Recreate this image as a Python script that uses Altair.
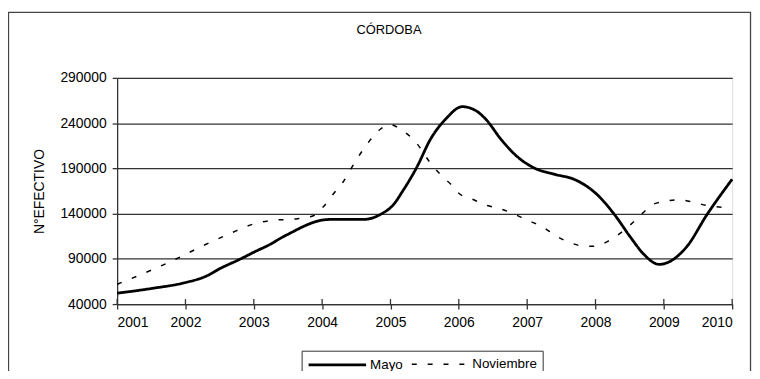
import altair as alt
import pandas as pd

# ---- data ----
years = [2001, 2002, 2003, 2004, 2005, 2006, 2007, 2008, 2009, 2010]
y_ticks = [40000, 90000, 140000, 190000, 240000, 290000]

mayo_x = [2001.0, 2001.5, 2002.0, 2002.29, 2002.53, 2002.77, 2003.06, 2003.2, 2003.47,
          2004.1, 2004.6, 2004.87, 2005.04, 2005.18, 2005.38, 2005.59, 2005.81, 2006.05,
          2006.25, 2006.39, 2006.63, 2006.87, 2007.12, 2007.41, 2007.70, 2008.03, 2008.28,
          2008.52, 2008.71, 2008.93, 2009.07, 2009.34, 2009.63, 2010.0]
mayo_v = [52000, 57200, 63800, 70400, 80200, 88600, 99500, 104500, 116000,
          133500, 133500, 139800, 149600, 165000, 190500, 222800, 244700, 258200,
          253800, 244700, 220900, 202000, 189900, 183300, 177500, 160600, 138700,
          113100, 94800, 83900, 86400, 103900, 138700, 178000]

nov_x = [2001.0, 2001.66, 2001.87, 2002.24, 2002.65, 2003.01, 2003.25, 2003.64, 2003.88,
         2004.02, 2004.19, 2004.31, 2004.41, 2004.6, 2004.72, 2004.86, 2004.99, 2005.16,
         2005.37, 2005.59, 2005.74, 2005.88, 2006.0, 2006.2, 2006.39, 2006.61, 2006.8,
         2006.99, 2007.21, 2007.45, 2007.66, 2007.84, 2007.99, 2008.18, 2008.40, 2008.54,
         2008.69, 2008.83, 2009.0, 2009.22, 2009.43, 2009.63, 2009.85]
nov_v = [61900, 82800, 90100, 103900, 117900, 128800, 132400, 134300, 137900,
         147800, 164200, 175200, 188000, 210700, 222800, 233800, 238500, 232600,
         219000, 195400, 182500, 172700, 162500, 155900, 149600, 145300, 139800,
         133200, 125900, 114200, 107000, 103900, 103900, 109400, 120400, 129600,
         140500, 149600, 153300, 155100, 152600, 148900, 147100]

series = ["Mayo", "Noviembre"]

df = pd.DataFrame({
    "anio": mayo_x + nov_x,
    "valor": mayo_v + nov_v,
    "serie": [series[0]] * len(mayo_x) + [series[1]] * len(nov_x),
})
ticks_df = pd.DataFrame({"anio": years})
frame_df = pd.DataFrame({"a": [0]})

FONT = "Liberation Sans"
W, H = 620, 228

xscale = alt.Scale(domain=[2001, 2010], nice=False, zero=False)
yscale = alt.Scale(domain=[40000, 290000], nice=False, zero=False)

leg = alt.Legend(
    title=None, orient="none", legendX=186, legendY=275, direction="horizontal",
    strokeColor="#333", fillColor="white", padding=5,
    symbolType="M-4,0H4", symbolSize=210, symbolOffset=22,
    symbolStrokeColor="black", labelFont=FONT, labelFontSize=13.5,
    labelColor="black", labelOffset=24, columnPadding=5, cornerRadius=0,
)

lines = alt.Chart(df).mark_line(color="black", interpolate="monotone").encode(
    x=alt.X("anio:Q", scale=xscale,
            axis=alt.Axis(values=years, format="d", title=None, grid=False,
                          tickSize=5, labelPadding=7, labelFont=FONT, labelFontSize=14,
                          labelColor="black", domainColor="#333", tickColor="#333",
                          domainWidth=1.3, tickWidth=1.3)),
    y=alt.Y("valor:Q", scale=yscale,
            axis=alt.Axis(values=y_ticks, format="d", title="N°EFECTIVO",
                          grid=True, gridColor="#333", gridWidth=1.3,
                          tickSize=5, labelPadding=6, labelFont=FONT, labelFontSize=14,
                          labelColor="black", domainColor="#333", tickColor="#333",
                          domainWidth=1.3, tickWidth=1.3, titleFont=FONT,
                          titleFontSize=14, titleFontWeight="normal", titleColor="black",
                          titlePadding=13)),
    strokeDash=alt.StrokeDash("serie:N", scale=alt.Scale(domain=series, range=[[1, 0], [5, 11]]),
                              legend=leg),
    strokeWidth=alt.StrokeWidth("serie:N", scale=alt.Scale(domain=series, range=[2.8, 1.5]),
                                legend=leg),
)

inner_ticks = alt.Chart(ticks_df).mark_rule(color="#333", strokeWidth=1.3).encode(
    x=alt.X("anio:Q", scale=xscale),
    y=alt.value(H - 5), y2=alt.value(H),
)

frame = alt.Chart(frame_df).mark_rect(filled=False, stroke="#444", strokeWidth=1.3).encode(
    x=alt.value(-109.5), x2=alt.value(638.5), y=alt.value(-66), y2=alt.value(320),
)

chart = alt.layer(frame, lines, inner_ticks).properties(
    width=W, height=H,
    title=alt.TitleParams("CÓRDOBA", font=FONT, fontSize=13, fontWeight="normal",
                          color="black", anchor="middle", dx=-36, offset=-25),
    autosize=alt.AutoSizeParams(type="none"),
    padding={"left": 110, "top": 69, "right": 20, "bottom": 66},
).configure_view(stroke="#333", strokeWidth=1.3).configure(background="white")

chart.save("out.html", embed_options={"renderer": "svg", "actions": False})
